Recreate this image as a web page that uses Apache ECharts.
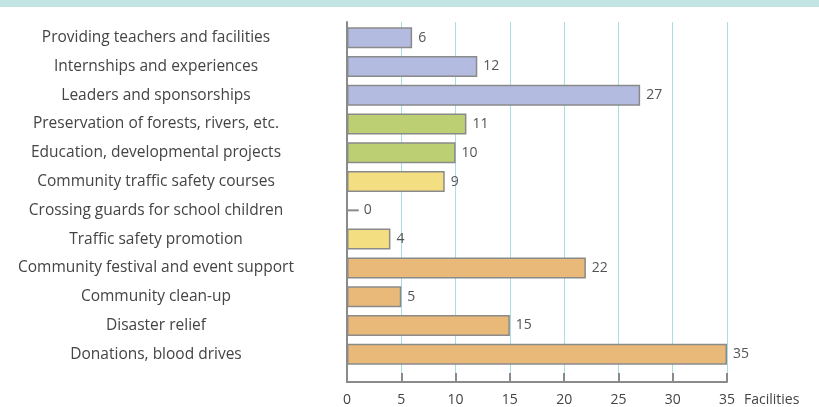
<!DOCTYPE html>
<html>
<head>
<meta charset="utf-8">
<style>
  html, body { margin: 0; padding: 0; background: #ffffff; }
  #chart { width: 819px; height: 407px; }
</style>
<script src="https://cdn.jsdelivr.net/npm/echarts@6/dist/echarts.min.js"></script>
</head>
<body>
<div id="chart"></div>
<script>
// Community activities, number of facilities taking part
const categories = [
  'Providing teachers and facilities',
  'Internships and experiences',
  'Leaders and sponsorships',
  'Preservation of forests, rivers, etc.',
  'Education, developmental projects',
  'Community traffic safety courses',
  'Crossing guards for school children',
  'Traffic safety promotion',
  'Community festival and event support',
  'Community clean-up',
  'Disaster relief',
  'Donations, blood drives'
];
const facilities = [6, 12, 27, 11, 10, 9, 0, 4, 22, 5, 15, 35];
// activity group of each row: 0 education, 1 environment, 2 traffic safety, 3 community
const groups = [0, 0, 0, 1, 1, 2, 2, 2, 3, 3, 3, 3];
const groupColors = ['#b3bbe0', '#bccf72', '#f3de82', '#e8b978'];
const xTicks = { min: 0, max: 35, interval: 5 };
const axisName = 'Facilities';

const fontFamily = '"Open Sans", "Noto Sans", sans-serif';
const axisGray = '#8a8a8a';

// zero rows get a short stub drawn as part of their label, attached to the axis
const barData = facilities.map((v, i) => {
  const item = { value: v, itemStyle: { color: groupColors[groups[i]] } };
  if (v === 0) item.label = { distance: 0 };
  return item;
});

const chart = echarts.init(document.getElementById('chart'), null, { renderer: 'canvas' });

chart.setOption({
  animation: false,
  backgroundColor: '#ffffff',
  graphic: [{
    type: 'rect',
    left: 0, top: 0,
    shape: { width: 819, height: 7 },
    style: { fill: '#c2e5e4' },
    silent: true
  }],
  grid: [
    // frame: value axis, grid lines, left rule
    { left: 347, right: 92, top: 22, bottom: 25, containLabel: false },
    // bars and category labels
    { left: 347, right: 92, top: 23.3, bottom: 38.4, containLabel: false }
  ],
  xAxis: [
    {
      gridIndex: 0,
      type: 'value',
      min: xTicks.min, max: xTicks.max, interval: xTicks.interval,
      name: axisName,
      nameLocation: 'end',
      nameGap: 17,
      nameTextStyle: {
        color: '#444', fontSize: 14, fontFamily,
        verticalAlign: 'top', align: 'left', padding: [11, 0, 0, 0]
      },
      axisLine: { show: true, lineStyle: { color: axisGray, width: 2 } },
      axisTick: { show: true, inside: true, length: 9, lineStyle: { color: axisGray, width: 2 } },
      axisLabel: { color: '#444', fontSize: 14, fontFamily, margin: 11 },
      splitLine: { show: true, lineStyle: { color: '#a9dde1', width: 1 } }
    },
    {
      gridIndex: 1,
      type: 'value',
      min: xTicks.min, max: xTicks.max, interval: xTicks.interval,
      show: false
    }
  ],
  yAxis: [
    {
      gridIndex: 0,
      type: 'value',
      min: 0, max: 1,
      axisLine: { show: true, lineStyle: { color: axisGray, width: 2 } },
      axisTick: { show: false },
      axisLabel: { show: false },
      splitLine: { show: false }
    },
    {
      gridIndex: 1,
      type: 'category',
      data: categories,
      inverse: true,
      axisLine: { show: false },
      axisTick: { show: false },
      axisLabel: {
        color: '#444', fontSize: 15.5, fontFamily,
        align: 'center', margin: 191
      },
      splitLine: { show: false }
    }
  ],
  series: [{
    type: 'bar',
    xAxisIndex: 1,
    yAxisIndex: 1,
    data: barData,
    barCategoryGap: '27%',
    itemStyle: { borderColor: axisGray, borderWidth: 1.5 },
    label: {
      show: true,
      position: 'right',
      distance: 6,
      color: '#555',
      fontSize: 14,
      fontFamily,
      formatter: (p) => p.value === 0 ? '{dash| }{v|0}' : String(p.value),
      rich: {
        dash: { width: 11, height: 2, backgroundColor: axisGray },
        v: { color: '#555', fontSize: 14, fontFamily, padding: [0, 0, 0, 5] }
      }
    }
  }]
});
</script>
</body>
</html>
